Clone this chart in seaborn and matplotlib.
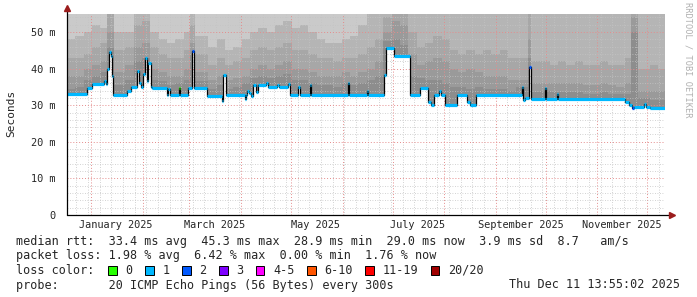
import numpy as np
import pandas as pd
import matplotlib
matplotlib.use("Agg")
import matplotlib.pyplot as plt
import matplotlib.dates as mdates
from matplotlib.ticker import FuncFormatter, MultipleLocator, NullFormatter
from matplotlib.patches import Rectangle
import seaborn as sns

# ---------------- data ----------------
START = pd.Timestamp("2024-12-17 10:00")
END = pd.Timestamp("2025-12-11 16:30")
Y_MAX = 55

# median rtt (ms) as steps: day offset from START where each level begins
MED_DAY = [0, 12.0, 15.0, 22.2, 23.4, 24.0, 25.2, 26.4, 27.0, 27.6, 36.1, 38.5, 42.1, 43.3,
           44.5, 45.7, 46.9, 48.1, 48.7, 50.5, 51.1, 60.1, 60.7, 61.9, 67.3, 67.9, 72.7, 75.1,
           76.3, 84.1, 93.1, 93.8, 95.6, 107.0, 107.6, 108.2, 109.4, 110.6, 111.8, 113.6, 114.8,
           119.6, 120.8, 126.2, 127.4, 132.8, 134.0, 138.8, 140.0, 146.0, 146.6, 168.9, 169.5,
           180.3, 180.9, 190.5, 191.7, 196.5, 206.1, 212.1, 216.9, 218.8, 220.6, 223.6, 224.8,
           227.2, 234.4, 240.4, 242.2, 245.8, 273.4, 274.0, 275.2, 277.6, 278.8, 287.3, 287.9,
           294.5, 295.1, 335.3, 337.7, 339.5, 340.7, 346.8, 348.0, 350.3]
MED_MS = [33.0, 34.6, 35.7, 36.5, 35.7, 40.0, 44.6, 43.5, 38.0, 32.8, 34.0, 35.0, 39.4, 36.2,
          35.0, 38.5, 42.8, 36.6, 41.5, 35.0, 34.8, 32.8, 34.5, 32.8, 34.6, 32.8, 34.8, 44.8,
          34.8, 32.6, 31.1, 38.3, 32.8, 31.6, 32.8, 34.0, 33.2, 32.5, 35.5, 33.5, 35.5,
          36.2, 35.0, 35.5, 35.0, 35.7, 32.8, 35.0, 32.8, 35.5, 32.8, 36.2, 32.8,
          34.0, 32.8, 38.3, 45.5, 43.5, 32.8, 34.8, 31.0, 30.0, 32.8, 34.0, 32.8,
          30.0, 32.8, 31.0, 30.0, 32.8, 34.9, 31.5, 32.0, 40.5, 31.8, 34.7, 31.8,
          33.0, 31.8, 30.8, 30.0, 29.2, 29.5, 30.2, 29.5, 29.2]
# loss class index of each median step (index into LOSS_LABELS)
MED_LOSS = [1, 1, 1, 1, 1, 1, 1, 1, 1, 1, 1, 1, 1, 1,
            1, 1, 1, 1, 1, 1, 1, 1, 1, 1, 0, 1, 1, 2,
            1, 1, 1, 1, 1, 1, 1, 1, 1, 1, 1, 1, 1,
            1, 1, 1, 1, 1, 1, 1, 1, 1, 1, 1, 1,
            1, 1, 1, 1, 1, 1, 1, 1, 1, 1, 1, 1,
            1, 1, 1, 1, 1, 1, 1, 1, 2, 1, 1, 1,
            1, 1, 1, 1, 2, 1, 1, 1, 1]

# smoke: upper edges (ms) of the grey ping-spread layers, step starts in days
SMOKE_DAY = [0, 5, 10, 15, 20, 24, 28, 30, 35, 40, 45, 50, 55, 60, 65, 70, 74, 77, 80, 85, 90, 95,
             100, 105, 110, 115, 120, 125, 130, 135, 140, 145, 150, 155, 160, 165, 170, 175,
             180, 185, 190, 195, 200, 205, 210, 215, 220, 225, 230, 235, 240, 245, 250, 255,
             260, 265, 270, 275, 277, 279, 280, 285, 290, 295, 300, 305, 310, 315, 320, 325, 330, 335,
             339, 343, 345, 350, 355]
SMOKE_1 = [48, 49, 50, 52, 51, 55, 50, 50, 50, 55, 55, 50, 48, 47, 48, 50, 55, 49, 49, 46, 48, 45,
           46, 48, 50, 51, 50, 52, 53, 51, 52, 50, 48, 47, 47, 48, 49, 52,
           55, 55, 55, 55, 55, 55, 55, 55, 55, 55, 55, 55, 55, 55, 55, 55,
           55, 55, 55, 55, 55, 55, 55, 55, 55, 55, 55, 55, 55, 55, 55, 55, 55, 55,
           55, 55, 55, 55, 55]
SMOKE_2 = [43, 43, 44, 46, 47, 55, 45, 45, 46, 52, 53, 46, 44, 43, 43, 45, 52, 44, 44, 41, 43, 41,
           42, 43, 45, 46, 45, 46, 47, 45, 45, 44, 43, 43, 42, 43, 43, 44,
           46, 48, 54, 55, 55, 50, 46, 47, 49, 48, 45, 44, 45, 44, 45, 44,
           45, 43, 43, 43, 55, 42, 42, 42, 41, 42, 41, 42, 41, 41, 42, 41, 41, 43,
           55, 40, 40, 41, 40]
SMOKE_3 = [38, 38, 40, 41, 42, 50, 39, 39, 41, 46, 47, 40, 39, 38, 38, 40, 47, 39, 39, 37, 38, 37,
           37.5, 38, 40, 41, 40, 41, 42, 40, 40, 39, 38, 38, 38, 39, 38, 39,
           40, 42, 50, 53, 52, 44, 41, 42, 43, 42, 40, 39, 40, 39, 38, 38,
           38, 37, 37, 37, 48, 36, 36, 36, 36, 36, 36, 36, 35.5, 35.5, 36, 35.5, 35, 36,
           54, 34, 34, 34, 34]
SMOKE_4 = [34.5, 35, 37, 38, 39, 46, 35.5, 35.5, 37, 42, 43, 37, 36.5, 35.5, 36, 37, 44, 36.5, 36.5,
           34.5, 35.5, 34.5,
           35, 36, 37.5, 38, 37.5, 38, 38.5, 37, 37, 36, 35.5, 35.5, 35, 36, 35.5, 36,
           37, 38, 47.5, 48, 46.5, 38, 37.5, 37, 37, 36, 35, 35, 34.5, 35, 34.5, 34.5,
           34.5, 34, 35, 35, 43, 33.5, 33.5, 34, 33.5, 33.5, 33.5, 33.5, 33, 33, 33.5, 33, 33, 33,
           50, 32, 32, 31.5, 31.5]

LOSS_LABELS = ["0", "1", "2", "3", "4-5", "6-10", "11-19", "20/20"]
LOSS_COLORS = ["#26ff00", "#00b8ff", "#0059ff", "#7e00ff", "#ff00ff", "#ff5500", "#ff0000", "#a00000"]
SMOKE_COLORS = ["#cacaca", "#b5b5b5", "#a7a7a7", "#9a9a9a", "#8d8d8d"]

LABEL_MONTHS = [1, 3, 5, 7, 9, 11]

LINE_RTT = "median rtt:  33.4 ms avg  45.3 ms max  28.9 ms min  29.0 ms now  3.9 ms sd  8.7   am/s"
LINE_LOSS = "packet loss: 1.98 % avg  6.42 % max  0.00 % min  1.76 % now"
LINE_COLOR = "loss color:"
LINE_PROBE = "probe:       20 ICMP Echo Pings (56 Bytes) every 300s"
STAMP = "Thu Dec 11 13:55:02 2025"
Y_LABEL = "Seconds"
WATERMARK = "RRDTOOL / TOBI OETIKER"

# ---------------- drawing ----------------
sns.set_style("white")
plt.rcParams["font.family"] = ["DejaVu Sans Mono"]

W, H = 697, 297
fig = plt.figure(figsize=(W / 100, H / 100), dpi=100)
fig.patch.set_facecolor("white")
ax = fig.add_axes([67 / W, 82 / H, 598 / W, 201.3 / H])
ax.set_facecolor("white")


def to_dt(days):
    return list((START + pd.to_timedelta(np.asarray(days, dtype=float), unit="D")).to_pydatetime())


end_dt = END.to_pydatetime()
sx = to_dt(SMOKE_DAY) + [end_dt]

# smoke layers
ax.fill_between(sx, 0, Y_MAX, step="post", color=SMOKE_COLORS[0], lw=0, zorder=1)
for col, band in zip(SMOKE_COLORS[1:], [SMOKE_1, SMOKE_2, SMOKE_3, SMOKE_4]):
    ax.fill_between(sx, 0, list(band) + [band[-1]], step="post", color=col, lw=0, zorder=1)

# white below median
mx = to_dt(MED_DAY) + [end_dt]
my = list(MED_MS) + [MED_MS[-1]]
ax.fill_between(mx, 0, my, step="post", color="white", lw=0, zorder=1.1)

# median black step line (seaborn)
df = pd.DataFrame({"t": pd.to_datetime(mx), "ms": my})
sns.lineplot(data=df, x="t", y="ms", drawstyle="steps-post", color="black", lw=0.9,
             estimator=None, ax=ax, zorder=3)
ax.set_xlabel("")
ax.set_ylabel("")

# coloured median segments
ax.hlines(MED_MS, mx[:-1], mx[1:], colors=[LOSS_COLORS[i] for i in MED_LOSS], lw=2.3, zorder=4)

ax.set_xlim(START.to_pydatetime(), end_dt)
ax.set_ylim(0, Y_MAX)

# grid
ax.set_axisbelow(False)
ax.xaxis.set_major_locator(mdates.MonthLocator(bymonthday=1))
ax.xaxis.set_major_formatter(NullFormatter())
ax.xaxis.set_minor_locator(mdates.WeekdayLocator(byweekday=mdates.MO))
ax.yaxis.set_major_locator(MultipleLocator(10))
ax.yaxis.set_minor_locator(MultipleLocator(2))
ax.yaxis.set_major_formatter(FuncFormatter(lambda v, p: "0" if v == 0 else f"{v:.0f} m"))
ax.grid(which="minor", color="#c4c4c4", ls=(0, (1, 2)), lw=0.6)
ax.grid(which="major", color="#e58c8c", ls=(0, (1, 2)), lw=0.7)

ax.tick_params(axis="x", which="major", direction="out", length=3, width=0.8, color="black")
ax.tick_params(axis="x", which="minor", length=0)
ax.tick_params(axis="y", which="major", direction="out", length=3, width=0.8, color="black",
               labelsize=7.4, pad=5)
ax.tick_params(axis="y", which="minor", length=0)

for s in ax.spines.values():
    s.set_visible(False)

# month labels centred mid-month
label_dates = mdates.MonthLocator(bymonth=LABEL_MONTHS, bymonthday=16).tick_values(START, END)
for d in label_dates:
    dd = mdates.num2date(d)
    ax.text(dd, -0.05, dd.strftime("%B %Y"), transform=ax.get_xaxis_transform(),
            ha="center", va="center", fontsize=7.4, clip_on=False)

# axes with arrows
ax.plot([0, 1.012], [0, 0], transform=ax.transAxes, color="black", lw=0.9, clip_on=False, zorder=5)
ax.plot([0, 0], [0, 1.028], transform=ax.transAxes, color="black", lw=0.9, clip_on=False, zorder=5)
ax.plot([1.012], [0], transform=ax.transAxes, marker=">", ms=4, color="#9b1c1c", clip_on=False, zorder=6)
ax.plot([0], [1.028], transform=ax.transAxes, marker="^", ms=4, color="#9b1c1c", clip_on=False, zorder=6)

# titles / legend text
fs = 8.5
fig.text(11 / W, 1 - 113 / H, Y_LABEL, rotation=90, ha="center", va="center", fontsize=8)
fig.text(688 / W, 1 - 60 / H, WATERMARK, rotation=270, ha="center", va="center",
         fontsize=6.2, color="#b0b0b0")
fig.text(16 / W, 1 - 241 / H, LINE_RTT, ha="left", va="center", fontsize=fs)
fig.text(16 / W, 1 - 256 / H, LINE_LOSS, ha="left", va="center", fontsize=fs)
fig.text(16 / W, 1 - 270 / H, LINE_COLOR, ha="left", va="center", fontsize=fs)
fig.text(16 / W, 1 - 285 / H, LINE_PROBE, ha="left", va="center", fontsize=fs)
fig.text(680 / W, 1 - 285 / H, STAMP, ha="right", va="center", fontsize=fs)

cw = 7.1
bx = 16 + 13 * cw
for lab, col in zip(LOSS_LABELS, LOSS_COLORS):
    fig.add_artist(Rectangle((bx / W, 1 - 274.5 / H), 8.5 / W, 8.5 / H, transform=fig.transFigure,
                             facecolor=col, edgecolor="black", lw=0.7))
    fig.text((bx + 2.4 * cw) / W, 1 - 270 / H, lab, ha="left", va="center", fontsize=fs)
    bx += (len(lab) + 4.2) * cw

fig.savefig("out.png", dpi=100, facecolor="white")
